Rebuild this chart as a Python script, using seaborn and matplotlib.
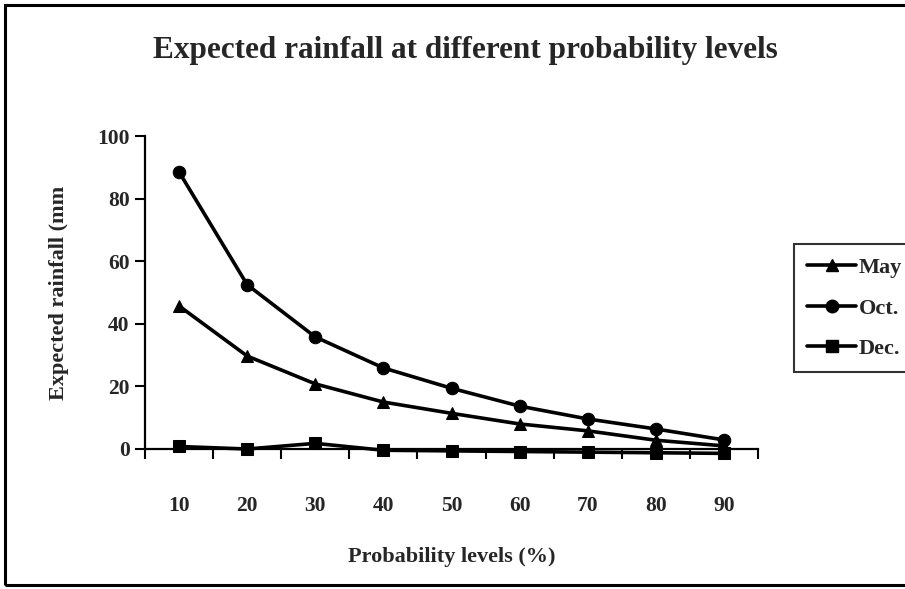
import matplotlib
matplotlib.use("Agg")
import matplotlib.pyplot as plt
import seaborn as sns
import pandas as pd
from matplotlib.patches import Rectangle

prob_levels = [10, 20, 30, 40, 50, 60, 70, 80, 90]
may = [45.7, 29.7, 20.8, 15.0, 11.4, 8.0, 5.8, 2.8, 1.0]
octo = [88.5, 52.5, 35.8, 25.9, 19.4, 13.7, 9.6, 6.4, 2.9]
dec = [0.8, 0.0, 1.8, -0.4, -0.6, -0.8, -1.0, -1.2, -1.4]
series_names = ["May", "Oct.", "Dec."]
y_ticks = [0, 20, 40, 60, 80, 100]

df = pd.DataFrame({
    "prob": prob_levels * 3,
    "rain": may + octo + dec,
    "month": [series_names[0]] * 9 + [series_names[1]] * 9 + [series_names[2]] * 9,
})

sns.set_style("white")
plt.rcParams["font.family"] = ["Liberation Serif", "DejaVu Serif"]
plt.rcParams["font.weight"] = "bold"

fig = plt.figure(figsize=(9.05, 5.89), dpi=100)
ax = fig.add_axes([145 / 905, 1 - 449 / 589, (758 - 145) / 905, (449 - 136) / 589])

sns.lineplot(data=df, x="prob", y="rain", hue="month", style="month",
             palette=["black"] * 3, markers=["^", "o", "s"], dashes=False,
             markersize=9, linewidth=2.6, markeredgecolor="black",
             ax=ax, legend=False)
for ln in ax.get_lines():
    ln.set_clip_on(False)
    ln.set_zorder(3)

ax.set_xlim(5, 95)
ax.set_ylim(0, 100)
ax.set_xticks([5, 15, 25, 35, 45, 55, 65, 75, 85, 95])
ax.set_xticklabels([])
ax.set_xticks(prob_levels, minor=True)
ax.set_xticklabels([str(p) for p in prob_levels], minor=True)
ax.tick_params(axis="x", which="major", direction="out", length=7, width=1.5, color="black", bottom=True)
ax.tick_params(axis="x", which="minor", length=0, pad=34, labelsize=15.5)
ax.set_yticks(y_ticks)
ax.tick_params(axis="y", direction="out", length=7, width=1.5, color="black", left=True, labelsize=15.5, pad=4)
for lab in ax.get_xticklabels(minor=True) + ax.get_yticklabels():
    lab.set_fontweight("bold")

for s in ["top", "right"]:
    ax.spines[s].set_visible(False)
for s in ["left", "bottom"]:
    ax.spines[s].set_color("black")
    ax.spines[s].set_linewidth(1.6)

ax.set_xlabel("Probability levels (%)", fontsize=16, fontweight="bold", labelpad=22)
ax.set_ylabel("Expected rainfall (mm", fontsize=16, fontweight="bold", labelpad=20)

fig.suptitle("Expected rainfall at different probability levels", x=465 / 905, y=1 - 36 / 589,
             fontsize=22.5, fontweight="bold", va="top")

# legend
handles = [
    plt.Line2D([], [], color="black", lw=2.6, marker="^", markersize=9),
    plt.Line2D([], [], color="black", lw=2.6, marker="o", markersize=9),
    plt.Line2D([], [], color="black", lw=2.6, marker="s", markersize=8),
]
leg = fig.legend(handles, series_names, loc="upper left", bbox_to_anchor=(783 / 905, 1 - 233 / 589),
                 frameon=True, fancybox=False, edgecolor="black",
                 handlelength=2.2, handletextpad=0.1, labelspacing=0.9, borderpad=0.6,
                 prop={"weight": "bold", "size": 16})
leg.get_frame().set_linewidth(1.5)

# figure border
fig.patches.append(Rectangle((5 / 905, 4 / 589), 1.0, 1 - 9 / 589, transform=fig.transFigure,
                             fill=False, edgecolor="black", linewidth=2.2))

fig.savefig("out.png", dpi=100)
